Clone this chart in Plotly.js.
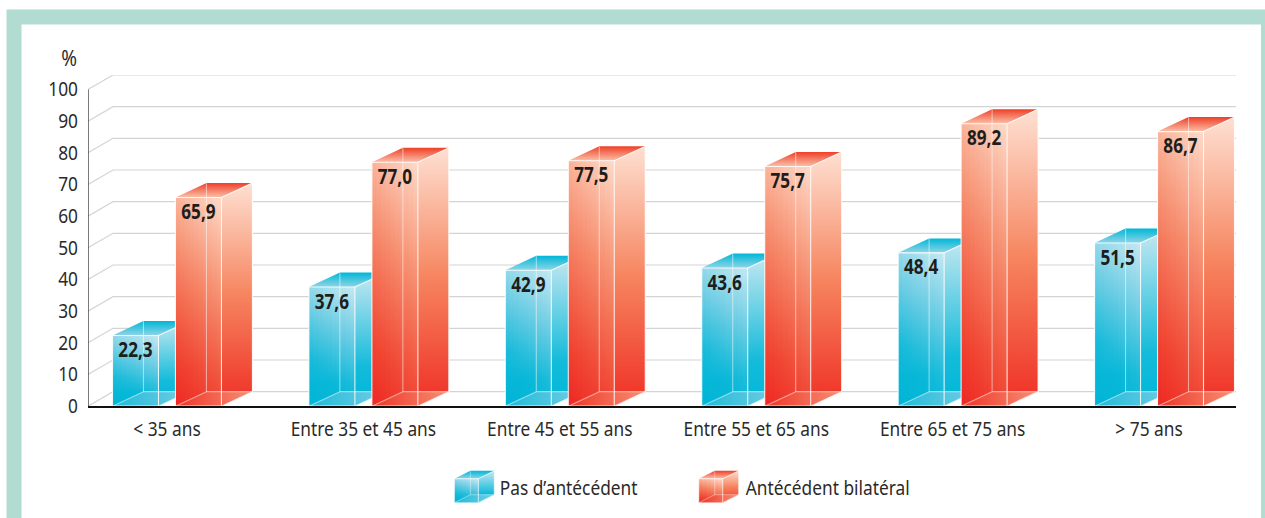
<!DOCTYPE html>
<html><head><meta charset="utf-8">
<script src="https://cdn.plot.ly/plotly-3.0.1.min.js"></script>
<style>html,body{margin:0;padding:0;background:#fff}#c{width:1265px;height:518px}</style>
</head><body><div id="c"></div>
<script>
const categories = ["< 35 ans","Entre 35 et 45 ans","Entre 45 et 55 ans","Entre 55 et 65 ans","Entre 65 et 75 ans","> 75 ans"];
const pasAntecedent = [22.3,37.6,42.9,43.6,48.4,51.5];
const antecedentBilateral = [65.9,77.0,77.5,75.7,89.2,86.7];
const yTicks = [0,10,20,30,40,50,60,70,80,90,100];
const seriesNames = ["Pas d’antécédent","Antécédent bilatéral"];

const W=1265,H=518, ML=87.5, MR=1236, MT=74.5, AX0=406;
const unitX=196.5, x0px=166.5;
const xMin=(ML-x0px)/unitX, xMax=(MR-x0px)/unitX;
const unitY=3.17, yMax=(AX0-MT)/unitY;
const barW=46/unitX, gap=17/unitX, depthX=31/unitX, depthY=14.5/unitY, wallX=25/unitX;
const labelDrop=1.6;
const textFont="'Noto Sans',sans-serif";
const TXT='#2b2a29';

const pal=[
 {ramp:[[0,[0,181,214]],[0.28,[10,184,216]],[0.65,[110,205,228]],[1,[196,232,241]]],
  side:[[0,'#00b7d8'],[0.3,'#14bbda'],[1,'#c6e8f1']],top:[[0,'#8fd5e6'],[1,'#00b7d8']],floor:[[0,'#1fbbda'],[1,'#72cde3']]},
 {ramp:[[0,[238,40,36]],[0.22,[240,70,50]],[0.6,[246,140,108]],[1,[254,218,200]]],
  side:[[0,'#ef2f25'],[0.5,'#f6855f'],[1,'#fee0d2']],top:[[0,'#fbc0a8'],[1,'#ef3f28']],floor:[[0,'#ef3526'],[1,'#f78e74']]}
];
function rampColor(ramp,d){
  d=Math.max(0,Math.min(1,d));
  for(let i=1;i<ramp.length;i++){
    if(d<=ramp[i][0]){
      const a=ramp[i-1],b=ramp[i],t=(d-a[0])/(b[0]-a[0]);
      return 'rgb('+a[1].map((c,k)=>Math.round(c+(b[1][k]-c)*t)).join(',')+')';
    }
  }
  return 'rgb('+ramp[ramp.length-1][1].join(',')+')';
}
const traces=[];
function poly(xs,ys,colorscale,type,axes){
  traces.push(Object.assign({type:'scatter',mode:'lines',x:xs.concat(xs[0]),y:ys.concat(ys[0]),fill:'toself',
    line:{width:0},hoverinfo:'skip',showlegend:false,
    fillgradient:{type:type,colorscale:colorscale}},axes));
}
function lines(xs,ys,color,w,axes){
  traces.push(Object.assign({type:'scatter',mode:'lines',x:xs,y:ys,line:{color:color,width:w},hoverinfo:'skip',showlegend:false},axes));
}
function box(l,w,v,dx,dy,p,axes,lw,strips){
  const r=l+w;
  poly([r,r+dx,r+dx,r],[0,dy,v+dy,v],p.side,'vertical',axes);
  poly([l,r,r+dx,l+dx],[v,v,v+dy,v+dy],p.top,'vertical',axes);
  // front face: overlapping strips, each a vertical gradient, together a slanted gradient
  for(let k=0;k<strips;k++){
    const f=k/strips, xa=l+w*f, fc=(k+0.5)/strips;
    const cs=[0,0.2,0.4,0.6,0.8,1].map(t=>[t,rampColor(p.ramp,0.8*t+0.2*fc)]);
    poly([xa,r,r,xa],[0,0,v,v],cs,'vertical',axes);
  }
  poly([l,r,r+dx,l+dx],[0,0,dy,dy],p.floor,'horizontal',axes);
  lines([l+dx,l+dx,null,l+dx,r+dx,null,l,l+dx],[dy,v+dy,null,dy,dy,null,0,dy],'rgba(255,255,255,0.5)',lw,axes);
  lines([l,l,r,r,l,null,r,r+dx,r+dx,null,r,r+dx],[0,v,v,0,0,null,v,v+dy,dy,null,0,dy],'rgba(255,255,255,0.85)',lw,axes);
}
const A={xaxis:'x',yaxis:'y'};
yTicks.forEach(t=>{
  lines([xMin,xMin+wallX,xMax],[t,t+depthY,t+depthY],'#d4d4d4',1.2,A);
});
lines([xMin,xMin],[0,100],'#222222',1.2,A);
[pasAntecedent,antecedentBilateral].forEach((vals,s)=>{
  vals.forEach((v,i)=>{
    const l = s===0 ? i-gap/2-barW : i+gap/2;
    box(l,barW,v,depthX,depthY,pal[s],A,1.1,10);
  });
});
[pasAntecedent,antecedentBilateral].forEach((vals,s)=>{
  traces.push({type:'scatter',mode:'text',xaxis:'x',yaxis:'y',cliponaxis:false,hoverinfo:'skip',showlegend:false,
    x:vals.map((v,i)=> s===0 ? i-gap/2-barW/2 : i+gap/2+barW/2),
    y:vals.map(v=>v-labelDrop),
    text:vals.map(v=>v.toFixed(1).replace('.',',')),
    textposition:'bottom center',
    textfont:{family:textFont,size:22,color:'#1d1d1b',weight:700}});
});
const B={xaxis:'x2',yaxis:'y2'};
const swatchW=24, swatchH=24, swatchDX=16, swatchDY=8;
const swatchX=[366.5,611];
pal.forEach((p,s)=>{
  box(swatchX[s],swatchW,swatchH,swatchDX,swatchDY,p,B,0.8,6);
});

const plotW=MR-ML, plotH=H-MT;
const px=x=>(x-ML)/plotW, py=y=>(H-y)/plotH;
const rect=(x0,y0,x1,y1,c)=>({type:'rect',xref:'paper',yref:'paper',x0:px(x0),x1:px(x1),y0:py(y0),y1:py(y1),fillcolor:c,line:{width:0},layer:'below'});
const note=(x,y,text,size)=>({xref:'paper',yref:'paper',x:px(x),y:py(y),xanchor:'center',yanchor:'middle',text:text,showarrow:false,font:{family:textFont,size:size,color:TXT}});
const layout={
  width:W,height:H,paper_bgcolor:'#ffffff',plot_bgcolor:'rgba(0,0,0,0)',showlegend:false,
  margin:{l:ML,r:W-MR,t:MT,b:0,pad:0},
  xaxis:{domain:[0,1],range:[xMin,xMax],tickmode:'array',tickvals:categories.map((c,i)=>i),ticktext:categories,
    showgrid:false,zeroline:false,showline:true,linecolor:'#111111',linewidth:1.5,ticks:'',ticklabelstandoff:4,
    tickfont:{family:textFont,size:20,color:TXT},anchor:'y'},
  yaxis:{domain:[py(AX0),1],range:[0,yMax],tickmode:'array',tickvals:yTicks,showgrid:false,zeroline:false,showline:false,ticks:'',
    ticklabelstandoff:9,tickfont:{family:textFont,size:20,color:TXT},anchor:'x'},
  xaxis2:{domain:[0,1],range:[0,plotW],visible:false,anchor:'y2',fixedrange:true},
  yaxis2:{domain:[0,py(AX0)],range:[-(H-502.7),502.7-AX0],visible:false,anchor:'x2',fixedrange:true},
  shapes:[rect(6,9,W+5,H,'#b2dcd1'),rect(21,24,1261,H+5,'#ffffff')],
  annotations:[
    note(68,56,'%',22),
    note(568.5,487,seriesNames[0],20),
    note(827,487,seriesNames[1],20)
  ]
};
Plotly.newPlot('c',traces,layout,{displayModeBar:false,staticPlot:true}).then(gd=>{
  // the source face is a condensed humanist: narrow the glyphs while keeping them real text
  gd.querySelectorAll('svg text').forEach(t=>{
    const len=t.getComputedTextLength();
    if(!len) return;
    const f=t.closest('.textpoint')?0.78:0.865;
    t.setAttribute('textLength',(len*f).toFixed(1));
    t.setAttribute('lengthAdjust','spacingAndGlyphs');
  });
});
</script></body></html>
